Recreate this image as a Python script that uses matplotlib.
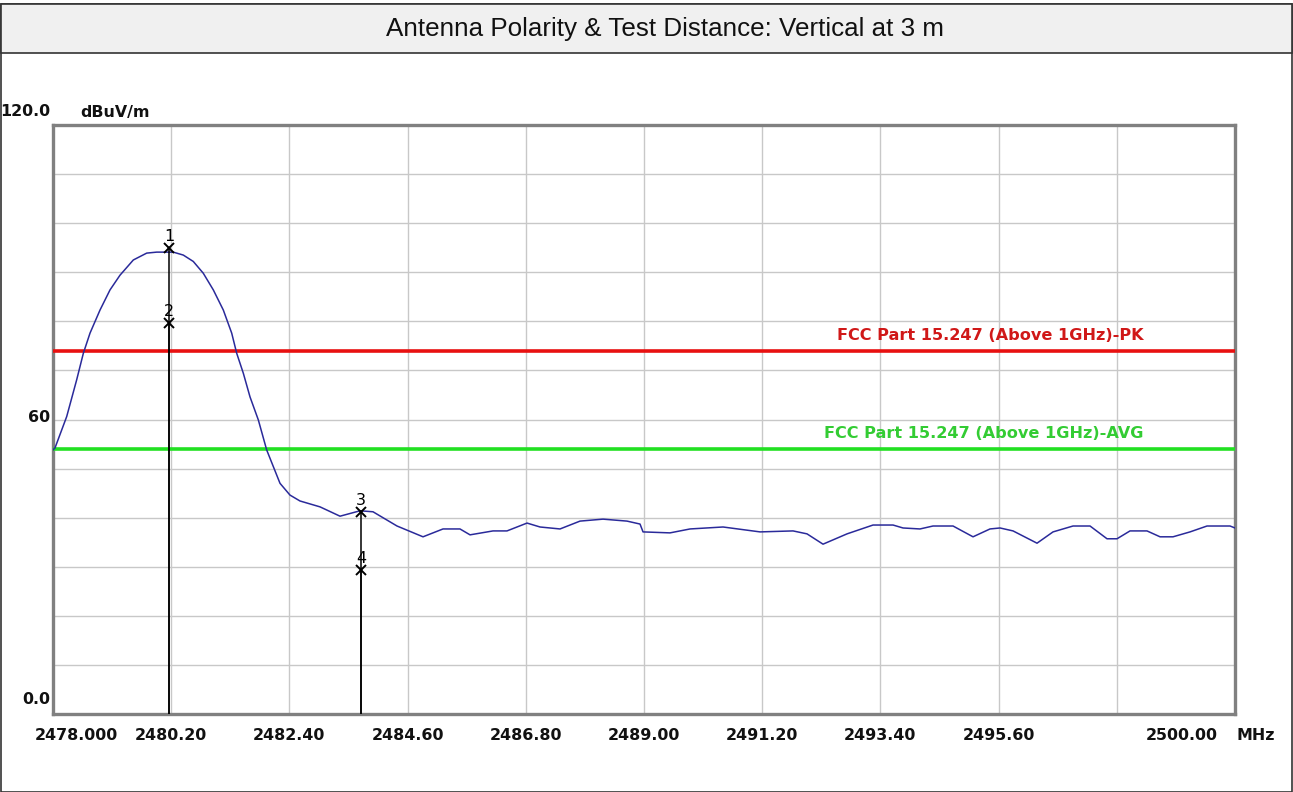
import matplotlib
import matplotlib.pyplot as plt
from matplotlib import transforms
from matplotlib.patches import Rectangle

matplotlib.use("Agg")

title = "Antenna Polarity & Test Distance: Vertical at 3 m"
unit_y = "dBuV/m"
unit_x = "MHz"

# measured trace (MHz, dBuV/m)
freq = [2478.000, 2478.037, 2478.255, 2478.441, 2478.565, 2478.689, 2478.875, 2479.061,
        2479.247, 2479.495, 2479.744, 2479.930, 2480.239, 2480.425, 2480.611, 2480.797,
        2480.984, 2481.170, 2481.326, 2481.419, 2481.543, 2481.667, 2481.822, 2481.977,
        2482.101, 2482.225, 2482.411, 2482.597,
        2482.970, 2483.342, 2483.714, 2483.956, 2484.403, 2484.887, 2485.259,
        2485.575, 2485.762, 2486.190, 2486.450, 2486.823, 2487.065, 2487.437, 2487.809,
        2488.237, 2488.684, 2488.926, 2488.982, 2489.484, 2489.857, 2490.471, 2491.160,
        2491.774, 2492.034, 2492.332, 2492.779, 2493.263, 2493.635, 2493.821, 2494.137,
        2494.379, 2494.752, 2495.124, 2495.440, 2495.627, 2495.869, 2496.315, 2496.613,
        2496.985, 2497.302, 2497.618, 2497.804, 2498.046, 2498.362, 2498.605, 2498.846,
        2499.163, 2499.479, 2499.908, 2500.000]
level = [53.8, 54.2, 60.6, 68.1, 73.5, 77.6, 82.3, 86.4,
         89.4, 92.5, 93.9, 94.1, 94.1, 93.5, 92.2, 89.8,
         86.4, 82.3, 77.6, 73.5, 69.4, 64.6, 59.9, 53.8,
         50.4, 47.0, 44.6, 43.4,
         42.2, 40.3, 41.4, 41.2, 38.3, 36.1, 37.7,
         37.7, 36.5, 37.3, 37.3, 38.9, 38.1, 37.7, 39.3,
         39.7, 39.3, 38.7, 37.1, 36.9, 37.7, 38.1, 37.1,
         37.3, 36.7, 34.6, 36.7, 38.5, 38.5, 37.9, 37.7,
         38.3, 38.3, 36.1, 37.7, 37.9, 37.3, 34.8, 37.1,
         38.3, 38.3, 35.7, 35.7, 37.3, 37.3, 36.1, 36.1,
         37.1, 38.3, 38.3, 37.9]

marker_ids = ["1", "2", "3", "4"]
marker_freq = [2480.16, 2480.16, 2483.73, 2483.73]
marker_level = [94.9, 79.7, 41.2, 29.3]

limit_levels = [74.0, 54.0]
limit_names = ["FCC Part 15.247 (Above 1GHz)-PK", "FCC Part 15.247 (Above 1GHz)-AVG"]
limit_colors = ["#e81010", "#22e022"]
limit_text_colors = ["#d01818", "#33cc33"]

x_ticks = [2478.0, 2480.2, 2482.4, 2484.6, 2486.8, 2489.0, 2491.2, 2493.4, 2495.6, 2497.8, 2500.0]
x_labels = ["2478.000", "2480.20", "2482.40", "2484.60", "2486.80", "2489.00",
            "2491.20", "2493.40", "2495.60", "", "2500.00"]
y_ticks = [0, 10, 20, 30, 40, 50, 60, 70, 80, 90, 100, 110, 120]
y_labels = {0: "0.0", 60: "60", 120: "120.0"}

W, H = 1293, 792
fig = plt.figure(figsize=(W / 100, H / 100), dpi=100)

# outer frame and title bar
fig.patches.append(Rectangle((1 / W, 0.5 / H), (W - 2) / W, (H - 4.5) / H,
                             transform=fig.transFigure, facecolor="white",
                             edgecolor="#333333", lw=1.2, zorder=-2))
fig.patches.append(Rectangle((1 / W, (H - 53) / H), (W - 2) / W, 49 / H,
                             transform=fig.transFigure, facecolor="#f0f0f0",
                             edgecolor="#333333", lw=1.2, zorder=-1))
fig.text(665 / W, (H - 29) / H, title, ha="center", va="center",
         family="Liberation Sans", fontsize=18.7, color="#111111")

ax = fig.add_axes([53 / W, (H - 714) / H, 1182 / W, 589 / H])
ax.set_zorder(2)
ax.set_xlim(2478.0, 2500.0)
ax.set_ylim(0, 120)
ax.set_xticks(x_ticks)
ax.set_yticks(y_ticks)
ax.grid(True, color="#c8c8c8", lw=1)
ax.tick_params(length=0, labelbottom=False, labelleft=False)
for s in ax.spines.values():
    s.set_color("#808080")
    s.set_linewidth(2.4)

for lvl, name, c, tc in zip(limit_levels, limit_names, limit_colors, limit_text_colors):
    ax.axhline(lvl, color=c, lw=2.6, zorder=3)
    ax.annotate(name, (2498.3, lvl), xytext=(0, 5.5), textcoords="offset points",
                ha="right", va="bottom", color=tc, fontsize=11.6, fontweight="bold",
                family="DejaVu Sans")

ax.plot(freq, level, color="#2a2a9a", lw=1.1, zorder=4)

ax.vlines(marker_freq, 0, marker_level, color="black", lw=1.1, zorder=5)
ax.plot(marker_freq, marker_level, "x", color="black", ms=7, mew=1.4, zorder=6)
for mid, mf, ml in zip(marker_ids, marker_freq, marker_level):
    ax.annotate(mid, (mf, ml), xytext=(0, 3), textcoords="offset points",
                ha="center", va="bottom", fontsize=11.5, color="black")

lab = dict(fontsize=11.4, fontweight="bold", family="DejaVu Sans", color="#111111")
xt = transforms.offset_copy(ax.transData, fig=fig, x=0, y=-21, units="dots")
for i, (t, s) in enumerate(zip(x_ticks, x_labels)):
    if i == 0:
        ax.text(t, 0, s, transform=transforms.offset_copy(ax.transData, fig=fig, x=-18, y=-21, units="dots"),
                ha="left", va="center", **lab)
    elif i == len(x_ticks) - 1:
        ax.text(t, 0, s, transform=transforms.offset_copy(ax.transData, fig=fig, x=-17, y=-21, units="dots"),
                ha="right", va="center", **lab)
    else:
        ax.text(t, 0, s, transform=xt, ha="center", va="center", **lab)
ax.text(2500.0, 0, unit_x, transform=transforms.offset_copy(ax.transData, fig=fig, x=2, y=-21, units="dots"),
        ha="left", va="center", **lab)

for v, s in y_labels.items():
    dy = {0: 14, 60: 2, 120: 13}[v]
    ax.text(2478.0, v, s, transform=transforms.offset_copy(ax.transData, fig=fig, x=-3, y=dy, units="dots"),
            ha="right", va="center", **lab)
ax.text(0.023, 120, unit_y,
        transform=transforms.offset_copy(transforms.blended_transform_factory(ax.transAxes, ax.transData),
                                         fig=fig, x=0, y=13, units="dots"),
        ha="left", va="center", **lab)

fig.savefig("out.png", dpi=100)
